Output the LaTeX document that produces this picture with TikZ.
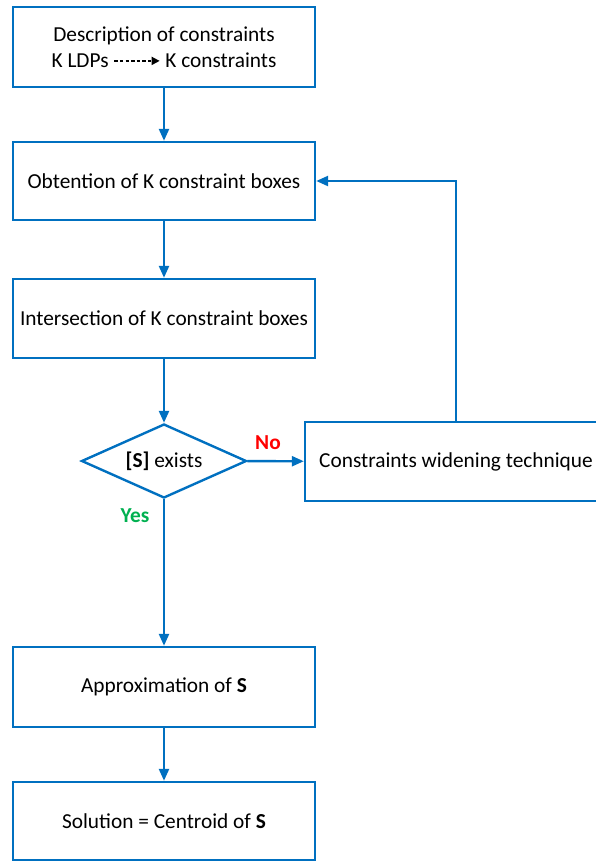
\documentclass[tikz,border=0pt]{standalone}
\usepackage{fontspec}
\setmainfont{Carlito}
\usetikzlibrary{shapes.geometric,arrows.meta}

\definecolor{flowblue}{RGB}{0,112,192}
\definecolor{nored}{RGB}{255,0,0}
\definecolor{yesgreen}{RGB}{0,176,80}

\tikzset{every picture/.style={line width=0.75pt}}
\tikzset{
  procbox/.style={draw=flowblue, line width=1.8pt, rectangle,
    minimum width=226.5pt, minimum height=60pt, inner sep=0pt, align=center,
    font=\fontsize{16}{19.5}\selectfont},
  testbox/.style={draw=flowblue, line width=1.8pt, diamond, aspect=2.23,
    minimum width=123.75pt, minimum height=55.5pt, inner sep=0pt,
    font=\fontsize{16}{19.5}\selectfont},
  flowarrow/.style={draw=flowblue, line width=1.8pt,
    -{Triangle[length=9pt,width=7.5pt]}},
  answer/.style={font=\fontsize{16}{19.5}\selectfont\bfseries}
}

\begin{document}
\begin{tikzpicture}[x=0.75pt,y=0.75pt,yscale=-1,xscale=1]
\useasboundingbox (0,0) rectangle (596,861);

%Flowchart: Process
\draw (164,47) node [procbox] (descr) {Description of constraints\\K LDPs \tikz[baseline=-0.3em]{\draw [line width=1.3pt, dash pattern=on 2.6pt off 1.6pt, -{Triangle[length=6pt,width=6pt]}] (0,0) -- (34pt,0);} K constraints};
%Flowchart: Process
\draw (164,181) node [procbox, minimum height=58.5pt] (obtain) {Obtention of K constraint boxes};
%Flowchart: Process
\draw (164,318.5) node [procbox, minimum height=59.25pt] (inter) {Intersection of K constraint boxes};
%Flowchart: Decision
\draw (164,461) node [testbox] (exist) {\textbf{[S]} exists};
%Flowchart: Process
\draw (456,461.5) node [procbox, minimum height=59.25pt] (widen) {Constraints widening technique};
%Flowchart: Process
\draw (164,687) node [procbox] (approx) {Approximation of \textbf{S}};
%Flowchart: Process
\draw (164,821) node [procbox, minimum height=58.5pt] (sol) {Solution = Centroid of \textbf{S}};

%Straight Lines
\draw [flowarrow] (descr) -- (obtain);
\draw [flowarrow] (obtain) -- (inter);
\draw [flowarrow] (inter) -- (exist);
\draw [flowarrow] (exist) -- (widen);
\draw [flowarrow] (exist) -- (approx);
\draw [flowarrow] (approx) -- (sol);
%Feedback loop
\draw [flowarrow] (widen.north) |- (obtain.east);

% Text Node
\draw (268,443) node [answer, text=nored] (no) {No};
% Text Node
\draw (135,516) node [answer, text=yesgreen] (yes) {Yes};

\end{tikzpicture}
\end{document}
